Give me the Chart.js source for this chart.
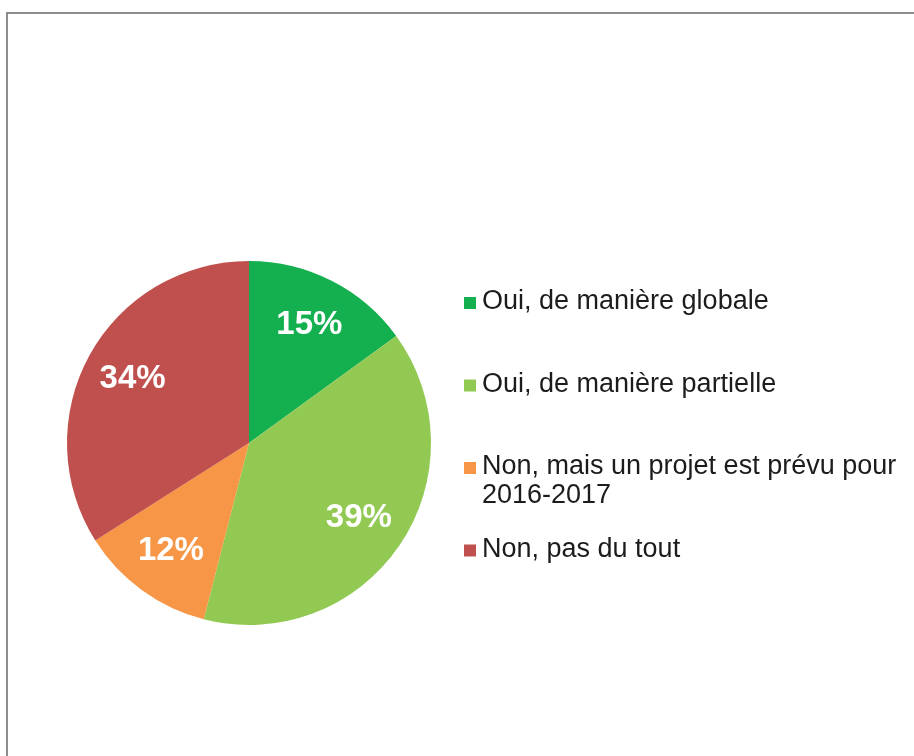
<!DOCTYPE html>
<html>
<head>
<meta charset="utf-8">
<script src="https://cdn.jsdelivr.net/npm/chart.js@4/dist/chart.umd.min.js"></script>
<style>
    html, body { margin: 0; padding: 0; background: #fff; overflow: hidden; }
    #myChart { position: absolute; left: 0; top: 0; }
    #frame {
        position: absolute; left: 6px; top: 12px; width: 1000px; height: 1000px;
        border-left: 2px solid #8c8c8c; border-top: 2px solid #8c8c8c;
        pointer-events: none;
    }
</style>
</head>
<body>
<canvas id="myChart" width="914" height="756"></canvas>
<div id="frame"></div>
<script>
// data
const labels = [
    "Oui, de manière globale",
    "Oui, de manière partielle",
    ["Non, mais un projet est prévu pour", "2016-2017"],
    "Non, pas du tout"
]
const values = [15, 39, 12, 34]
const colors = ["#14AF4F", "#92C953", "#F79646", "#C0504D"]

// percent labels inside the slices
const sliceLabels = {
    id: "sliceLabels",
    afterDatasetsDraw(chart) {
        const ctx = chart.ctx
        const meta = chart.getDatasetMeta(0)
        const total = values.reduce((a, b) => a + b, 0)
        ctx.save()
        ctx.fillStyle = "#ffffff"
        ctx.font = "bold 33px 'Liberation Sans', Arial, sans-serif"
        ctx.textAlign = "center"
        ctx.textBaseline = "middle"
        meta.data.forEach((arc, i) => {
            const p = arc.getProps(["x", "y", "startAngle", "endAngle", "outerRadius"], true)
            const mid = (p.startAngle + p.endAngle) / 2
            const r = p.outerRadius * 0.73
            const txt = Math.round(values[i] / total * 100) + "%"
            ctx.fillText(txt, p.x + Math.cos(mid) * r, p.y + Math.sin(mid) * r)
        })
        ctx.restore()
    }
}

// legend on the right, like the excel one
const sideLegend = {
    id: "sideLegend",
    afterDraw(chart, args, opts) {
        const ctx = chart.ctx
        ctx.save()
        ctx.font = "27px 'Liberation Sans', Arial, sans-serif"
        ctx.textBaseline = "middle"
        ctx.textAlign = "left"
        labels.forEach((lab, i) => {
            const y = opts.top + i * opts.step
            ctx.fillStyle = colors[i]
            ctx.fillRect(opts.left, y - 5, 12, 12)
            ctx.fillStyle = "#1c1c1c"
            const lines = Array.isArray(lab) ? lab : [lab]
            lines.forEach((l, j) => {
                ctx.fillText(l, opts.left + 18, y + j * opts.lineHeight)
            })
        })
        ctx.restore()
    }
}

function chart() {
    const data = {
        labels: labels.map(l => Array.isArray(l) ? l.join(" ") : l),
        datasets: [{
            data: values,
            backgroundColor: colors,
            borderWidth: 0,
            hoverOffset: 0
        }]
    }

    const config = {
        type: "pie",
        data: data,
        options: {
            responsive: false,
            animation: false,
            layout: {
                padding: { left: 67, right: 483, top: 261, bottom: 131 }
            },
            plugins: {
                legend: { display: false },
                tooltip: { enabled: false },
                sideLegend: { left: 464, top: 302, step: 82.5, lineHeight: 28.5 }
            }
        },
        plugins: [sliceLabels, sideLegend]
    }

    new Chart(document.getElementById("myChart"), config)
}
chart()
</script>
</body>
</html>
